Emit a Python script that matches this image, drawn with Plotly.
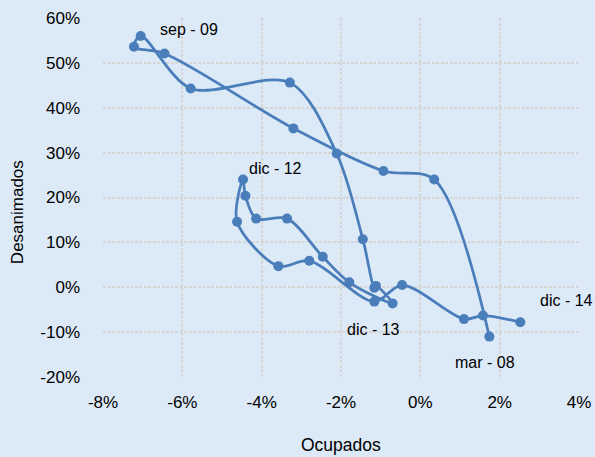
import plotly.graph_objects as go

# ---- data (yoy % change) ----
quarters = ["mar-08", "jun-08", "sep-08", "dic-08",
            "mar-09", "jun-09", "sep-09", "dic-09",
            "mar-10", "jun-10", "sep-10", "dic-10",
            "mar-11", "jun-11", "sep-11", "dic-11",
            "mar-12", "jun-12", "sep-12", "dic-12",
            "mar-13", "jun-13", "sep-13", "dic-13",
            "mar-14", "jun-14", "sep-14", "dic-14"]
ocupados = [1.74, 0.35, -0.93, -3.20,
            -6.45, -7.22, -7.05, -5.79,
            -3.29, -2.11, -1.45, -1.16,
            -1.12, -0.70, -1.79, -2.46,
            -3.36, -4.14, -4.41, -4.47,
            -4.62, -3.58, -2.80, -1.16,
            -0.46, 1.10, 1.58, 2.52]
desanimados = [-11.0, 24.0, 25.9, 35.4,
               52.1, 53.6, 56.0, 44.3,
               45.6, 29.8, 10.7, -0.1,
               0.3, -3.6, 1.1, 6.8,
               15.3, 15.3, 20.4, 24.0,
               14.6, 4.7, 5.9, -3.2,
               0.5, -7.1, -6.3, -7.8]
x_ticks = [-8, -6, -4, -2, 0, 2, 4]
x_tick_labels = ["-8%", "-6%", "-4%", "-2%", "0%", "2%", "4%"]
y_ticks = [-20, -10, 0, 10, 20, 30, 40, 50, 60]
y_tick_labels = ["-20%", "-10%", "0%", "10%", "20%", "30%", "40%", "50%", "60%"]
labelled = ["sep-09", "dic-12", "dic-13", "mar-08", "dic-14"]
label_texts = ["sep - 09", "dic - 12", "dic - 13", "mar - 08", "dic - 14"]

# ---- styling ----
BG = "rgb(220,233,246)"
BLUE = "rgb(74,126,187)"
GRID = "rgb(214,214,214)"
FONT = "Liberation Sans, Arial, sans-serif"
label_style = {
    "sep-09": dict(xshift=48, yshift=6, xanchor="center"),
    "dic-12": dict(xshift=32, yshift=11, xanchor="center"),
    "dic-13": dict(xshift=-1, yshift=-28, xanchor="center"),
    "mar-08": dict(xshift=-4, yshift=-26, xanchor="center"),
    "dic-14": dict(xshift=18, yshift=22, xanchor="left"),
}

fig = go.Figure()
fig.add_trace(go.Scatter(
    x=ocupados, y=desanimados, text=quarters,
    mode="lines+markers",
    line=dict(color=BLUE, width=2.75, shape="spline", smoothing=0.9),
    marker=dict(color=BLUE, size=10),
    showlegend=False, cliponaxis=False,
))

annotations = []
for q, t in zip(labelled, label_texts):
    i = quarters.index(q)
    st = label_style[q]
    annotations.append(dict(
        x=ocupados[i], y=desanimados[i], xref="x", yref="y",
        text=t, showarrow=False, yanchor="middle",
        font=dict(family=FONT, size=16, color="black"), **st))

annotations.append(dict(text="Ocupados", xref="paper", yref="paper",
                        x=0.5, y=-0.19, showarrow=False,
                        xanchor="center", yanchor="middle",
                        font=dict(family=FONT, size=17.5, color="black")))
annotations.append(dict(text="Desanimados", xref="paper", yref="paper",
                        x=-0.178, y=0.46, showarrow=False, textangle=-90,
                        xanchor="center", yanchor="middle",
                        font=dict(family=FONT, size=17, color="black")))

axis_common = dict(showgrid=True, gridcolor=GRID, gridwidth=2,
                   griddash="3px,1.5px", zeroline=False, showline=False,
                   ticks="", tickfont=dict(family=FONT, size=17, color="black"))

fig.update_layout(
    width=595, height=457, autosize=False,
    margin=dict(l=103, r=16, t=18, b=80, autoexpand=False),
    paper_bgcolor=BG, plot_bgcolor=BG,
    xaxis=dict(range=[-8, 4], tickvals=x_ticks, ticktext=x_tick_labels,
               ticklabelstandoff=13, automargin=False, **axis_common),
    yaxis=dict(range=[-20, 60], tickvals=y_ticks, ticktext=y_tick_labels,
               ticklabelstandoff=22, automargin=False, **axis_common),
    annotations=annotations,
)

fig.write_html(
    "out.html",
    config={"displayModeBar": False, "responsive": False},
    post_script="document.body.style.margin='0px';document.body.style.overflow='hidden';document.body.style.background='" + BG + "';",
)
